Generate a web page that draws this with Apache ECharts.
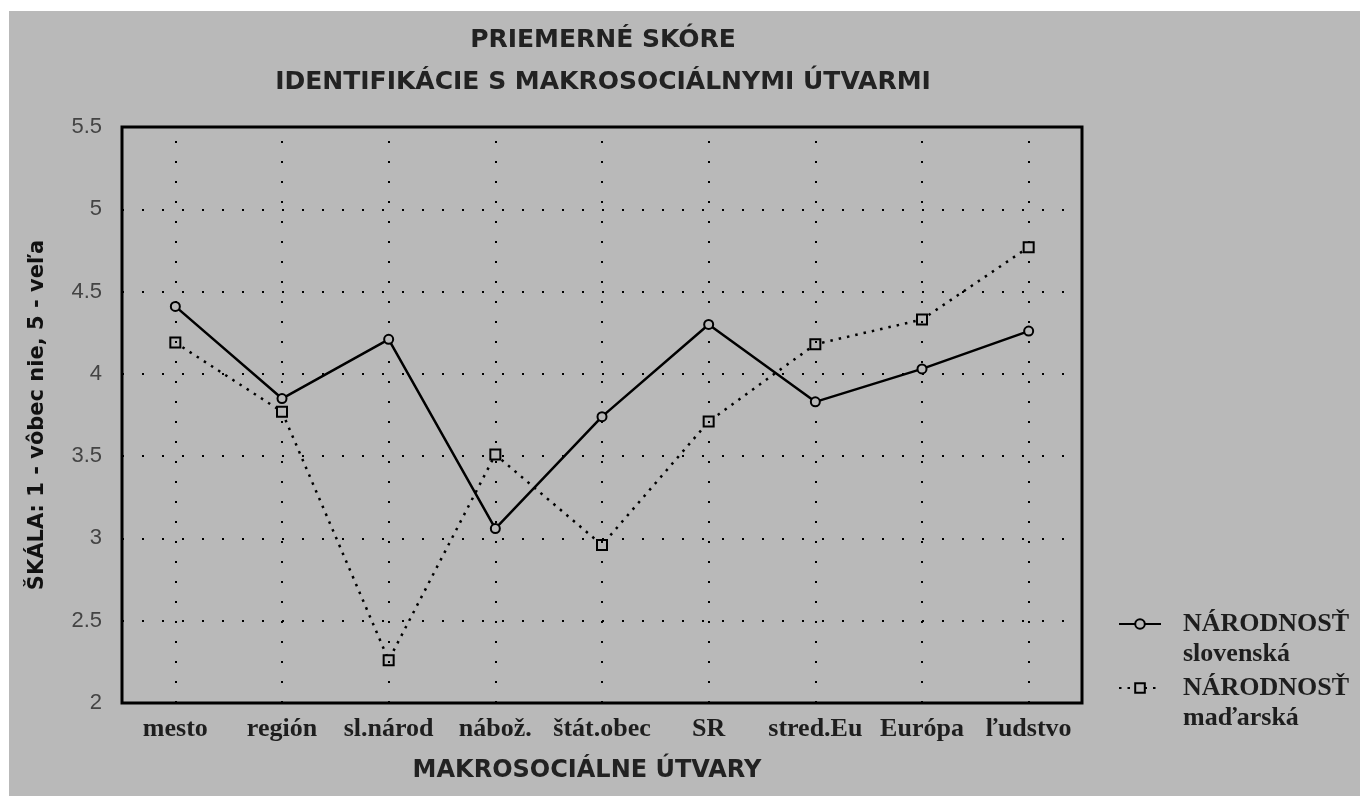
<!DOCTYPE html>
<html>
<head>
<meta charset="utf-8">
<script src="https://cdn.jsdelivr.net/npm/echarts@6/dist/echarts.min.js"></script>
<style>
html,body{margin:0;padding:0;background:#fff;}
#chart{width:1360px;height:796px;}
</style>
</head>
<body>
<div id="chart"></div>
<script>
const titleLines = ['PRIEMERNÉ SKÓRE', 'IDENTIFIKÁCIE S MAKROSOCIÁLNYMI ÚTVARMI'];
const categories = ['mesto', 'región', 'sl.národ', 'nábož.', 'štát.obec', 'SR', 'stred.Eu', 'Európa', 'ľudstvo'];
const seriesNames = ['NÁRODNOSŤ\nslovenská', 'NÁRODNOSŤ\nmaďarská'];
const slovenska = [4.41, 3.85, 4.21, 3.06, 3.74, 4.30, 3.83, 4.03, 4.26];
const madarska = [4.19, 3.77, 2.26, 3.51, 2.96, 3.71, 4.18, 4.33, 4.77];
const yMin = 2, yMax = 5.5, yStep = 0.5;
const xAxisName = 'MAKROSOCIÁLNE ÚTVARY';
const yAxisName = 'ŠKÁLA: 1 - vôbec nie, 5 - veľa';

const BG = '#b9b9b9';
const gridDots = { color: '#000', width: 2, type: [2, 18] };

const chart = echarts.init(document.getElementById('chart'), null, { renderer: 'canvas' });

const legendCommon = {
  orient: 'vertical',
  left: 1118,
  padding: 0,
  itemWidth: 42,
  itemHeight: 12,
  selectedMode: false,
  formatter: name => ' \n' + name,
  textStyle: {
    fontFamily: 'Liberation Serif, serif',
    fontSize: 26,
    fontWeight: 'bold',
    color: '#1e1e1e',
    lineHeight: 30,
    padding: [0, 0, 0, 17]
  }
};

chart.setOption({
  animation: false,
  backgroundColor: BG,
  graphic: [
    { type: 'rect', shape: { x: 0, y: 0, width: 1360, height: 11 }, style: { fill: '#fff' }, silent: true },
    { type: 'rect', shape: { x: 0, y: 0, width: 9, height: 796 }, style: { fill: '#fff' }, silent: true }
  ],
  title: {
    text: titleLines.join('\n'),
    left: 598,
    top: 14,
    textAlign: 'center',
    textStyle: {
      fontFamily: 'DejaVu Sans, sans-serif',
      fontWeight: 'bold',
      fontSize: 25,
      lineHeight: 42,
      color: '#222'
    }
  },
  legend: [
    Object.assign({}, legendCommon, { top: 579, data: [seriesNames[0]] }),
    Object.assign({}, legendCommon, { top: 643, data: [seriesNames[1]] })
  ],
  grid: {
    left: 122,
    top: 127,
    right: 278,
    bottom: 93,
    show: true,
    borderColor: '#000',
    borderWidth: 3,
    backgroundColor: 'transparent'
  },
  xAxis: {
    type: 'category',
    data: categories,
    boundaryGap: true,
    axisLine: { show: false },
    axisTick: { show: false },
    splitLine: { show: false },
    axisLabel: {
      margin: 13,
      fontFamily: 'Liberation Serif, serif',
      fontSize: 26,
      fontWeight: 'bold',
      color: '#1e1e1e',
      interval: 0
    },
    name: xAxisName,
    nameLocation: 'middle',
    nameGap: 56,
    nameTextStyle: {
      fontFamily: 'DejaVu Sans, sans-serif',
      fontWeight: 'bold',
      fontSize: 24,
      color: '#222',
      padding: [0, 30, 0, 0]
    }
  },
  yAxis: {
    type: 'value',
    min: yMin,
    max: yMax,
    interval: yStep,
    axisLine: { show: false },
    axisTick: { show: false },
    splitLine: { show: true, lineStyle: gridDots },
    axisLabel: {
      margin: 20,
      fontFamily: 'Liberation Sans, sans-serif',
      fontSize: 22,
      color: '#444'
    },
    name: yAxisName,
    nameLocation: 'middle',
    nameGap: 74,
    nameRotate: 90,
    nameTextStyle: {
      fontFamily: 'DejaVu Sans, sans-serif',
      fontWeight: 'bold',
      fontSize: 21,
      color: '#111'
    }
  },
  series: [
    {
      name: seriesNames[0],
      type: 'line',
      data: slovenska,
      symbol: 'circle',
      symbolSize: 9,
      showSymbol: true,
      lineStyle: { color: '#000', width: 2.5, type: 'solid' },
      itemStyle: { color: BG, borderColor: '#000', borderWidth: 2 },
      z: 5,
      markLine: {
        silent: true,
        symbol: ['none', 'none'],
        label: { show: false },
        lineStyle: gridDots,
        data: categories.map(c => ({ xAxis: c }))
      }
    },
    {
      name: seriesNames[1],
      type: 'line',
      data: madarska,
      symbol: 'rect',
      symbolSize: 10,
      showSymbol: true,
      lineStyle: { color: '#000', width: 2.5, type: [2.5, 6] },
      itemStyle: { color: BG, borderColor: '#000', borderWidth: 2 },
      z: 4
    }
  ]
});
</script>
</body>
</html>
